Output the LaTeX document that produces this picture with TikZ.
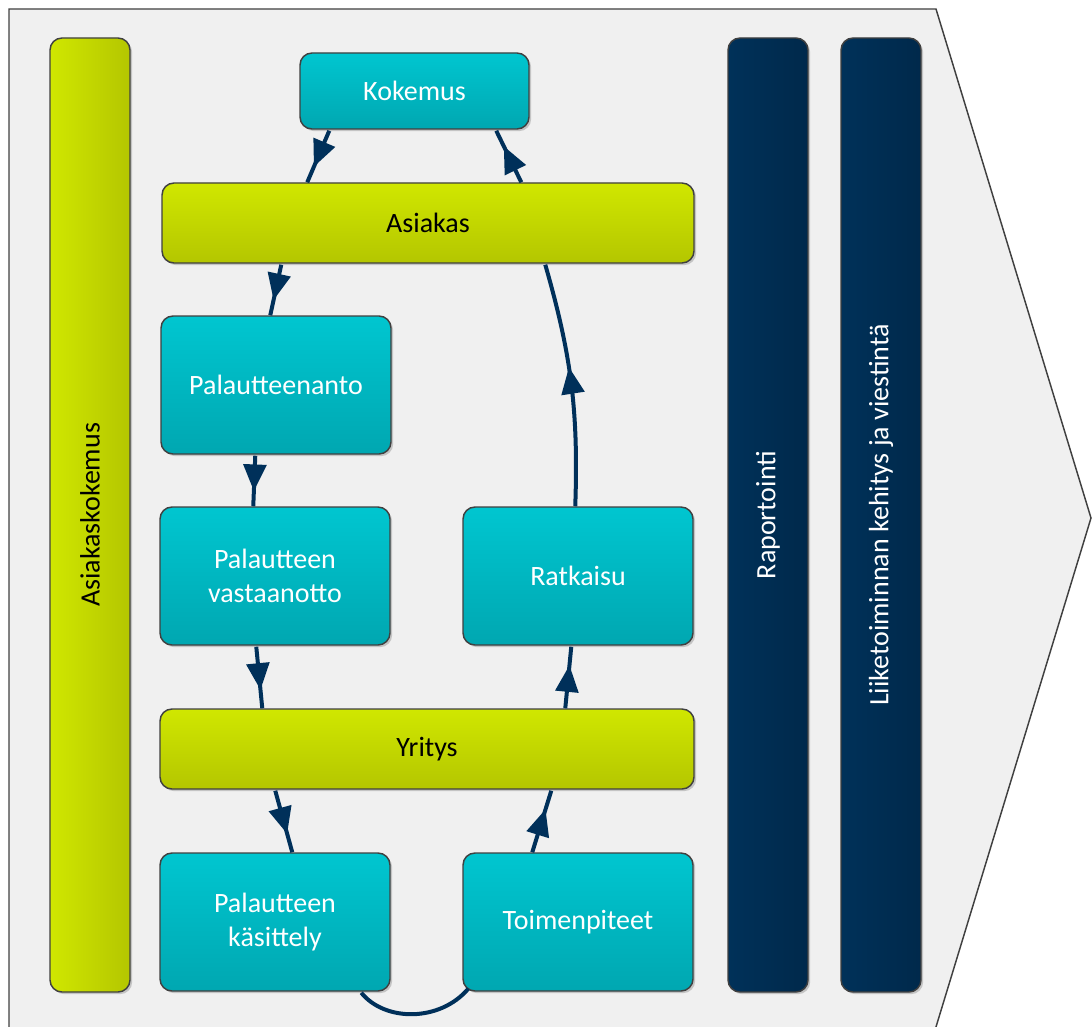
\documentclass[tikz,border=0pt]{standalone}
\usepackage{fontspec}
\setmainfont{Carlito}
\usetikzlibrary{calc,fit,shadows,arrows.meta,decorations.markings}

\definecolor{bgfill}{HTML}{F0F0F0}
\definecolor{edge}{HTML}{404040}
\definecolor{tealtop}{HTML}{00C6D0}
\definecolor{tealbot}{HTML}{00A7B1}
\definecolor{limetop}{HTML}{D0E700}
\definecolor{limebot}{HTML}{B4C600}
\definecolor{navyl}{HTML}{003159}
\definecolor{navyr}{HTML}{00294B}
\definecolor{flow}{HTML}{00305A}

\tikzset{
  base/.style={draw=edge, line width=1.1pt, rounded corners=9pt, inner sep=0pt,
    drop shadow={shadow xshift=1.6pt, shadow yshift=-1.6pt, opacity=0.18, fill=black}},
  boxtext/.style={font=\fontsize{21}{25}\selectfont, align=center, inner sep=0pt},
  stepbox/.style={base, top color=tealtop, bottom color=tealbot},
  bandbox/.style={base, top color=limetop, bottom color=limebot},
  limebar/.style={base, left color=limetop, right color=limebot},
  navybar/.style={base, left color=navyl, right color=navyr},
  flowline/.style={draw=flow, line width=3pt},
  flowarrow/.style={flowline, postaction={decorate},
    decoration={markings, mark=at position #1 with
      {\arrow{Triangle[length=20pt, width=17pt]}}}},
  flowarrow/.default=0.7,
  bartext/.style={boxtext, rotate=90}
}

\begin{document}
\begin{tikzpicture}[x=0.75pt, y=-0.75pt]
  \useasboundingbox (0,0) rectangle (1092,1027);

  % chevron backdrop
  \fill[bgfill] (9,1040) -- (9,9) -- (936,9) -- (1091,518) -- (932,1040) -- cycle;
  \draw[edge, line width=1.1pt] (9,1040) -- (9,9) -- (936,9) -- (1091,518) -- (932,1040);

  % side bars
  \node[limebar, fit={(50,38) (130,992)},
        label={[bartext, text=black]center:Asiakaskokemus}] (exp) {};
  \node[navybar, fit={(728,38) (808,992)},
        label={[bartext, text=white]center:Raportointi}] (rep) {};
  \node[navybar, fit={(841,38) (921,992)},
        label={[bartext, text=white]center:Liiketoiminnan kehitys ja viestintä}] (dev) {};

  % process boxes
  \node[stepbox, fit={(300,53) (529,129)},
        label={[boxtext, text=white]center:Kokemus}] (kok) {};
  \node[bandbox, fit={(162,183) (694,263)},
        label={[boxtext, text=black]center:Asiakas}] (asi) {};
  \node[stepbox, fit={(161,316) (391,454)},
        label={[boxtext, text=white]center:Palautteenanto}] (pan) {};
  \node[stepbox, fit={(160,507) (390,645)},
        label={[boxtext, text=white]center:Palautteen\\vastaanotto}] (vas) {};
  \node[stepbox, fit={(463,507) (693,645)},
        label={[boxtext, text=white]center:Ratkaisu}] (rat) {};
  \node[bandbox, fit={(160,709) (694,789)},
        label={[boxtext, text=black]center:Yritys}] (yri) {};
  \node[stepbox, fit={(160,853) (390,991)},
        label={[boxtext, text=white]center:Palautteen\\käsittely}] (kas) {};
  \node[stepbox, fit={(463,853) (693,991)},
        label={[boxtext, text=white]center:Toimenpiteet}] (toi) {};

  % feedback loop
  \draw[flowarrow] ($(kok.south west)+(30,1)$) -- ($(asi.north west)+(146,0)$);
  \draw[flowarrow] ($(asi.north west)+(360,0)$) -- ($(kok.south west)+(197,1)$);
  \draw[flowarrow] ($(asi.south west)+(120,1)$) -- ($(pan.north west)+(110,0)$);
  \draw[flowarrow] ($(pan.south west)+(95,1)$) -- ($(vas.north west)+(94,0)$);
  \draw[flowarrow] ($(vas.south west)+(97,1)$) -- ($(yri.north west)+(103,0)$);
  \draw[flowarrow] ($(yri.south west)+(116,1)$) -- ($(kas.north west)+(133,0)$);
  \draw[flowline] ($(kas.south west)+(202,1)$)
     .. controls (385,1022) and (440,1022) .. ($(toi.south west)+(6,-3)$);
  \draw[flowarrow] ($(toi.north west)+(70,0)$) -- ($(yri.south west)+(392,1)$);
  \draw[flowarrow] ($(yri.north west)+(406,0)$) -- ($(rat.south west)+(109,1)$);
  \draw[flowarrow=0.57] ($(rat.north west)+(113,0)$) to[bend right=9] ($(asi.south west)+(384,1)$);
\end{tikzpicture}
\end{document}
